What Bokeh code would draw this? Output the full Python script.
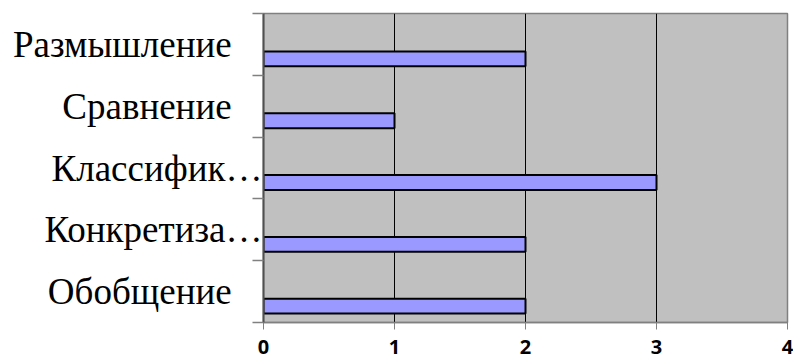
from bokeh.plotting import figure
from bokeh.models import FixedTicker, Range1d
from bokeh.embed import file_html
from bokeh.resources import INLINE

# Categories listed from top to bottom, with their scores
categories = ["Размышление", "Сравнение", "Классифик…", "Конкретиза…", "Обобщение"]
values = [2, 1, 3, 2, 2]
x_ticks = [0, 1, 2, 3, 4]

n = len(categories)
# Numeric y positions: bottom category sits in the band [0, 1]
centers = [n - 1 - i + 0.5 for i in range(n)]
bar_y = [c - 0.235 for c in centers]

# Full names are padded so that they end left of the truncated ones
pad = "\u2002\u2004"
labels = {}
for c, name in zip(centers, categories):
    labels[c] = name if name.endswith("…") else name + pad

p = figure(width=793, height=361, output_backend="svg", toolbar_location=None,
           x_range=Range1d(0, 4), y_range=Range1d(0, n))
p.min_border_left = 263
p.min_border_right = 6
p.min_border_top = 13
p.min_border_bottom = 39
p.background_fill_color = "#C0C0C0"
p.border_fill_color = "white"
p.outline_line_color = "#808080"
p.outline_line_width = 1.5

p.hbar(y=bar_y, left=0, right=values, height=0.24,
       fill_color="#9999FF", line_color="black", line_width=2)

# X axis: bold numeric labels, gridlines in black
p.xaxis.ticker = FixedTicker(ticks=x_ticks, minor_ticks=[])
p.xaxis.major_label_text_font = "Open Sans"
p.xaxis.major_label_text_font_style = "bold"
p.xaxis.major_label_text_font_size = "20px"
p.xaxis.major_label_text_color = "black"
p.xaxis.major_tick_out = 7
p.xaxis.major_tick_in = 0
p.xaxis.major_tick_line_color = "#808080"
p.xaxis.axis_line_color = "#808080"
p.xaxis.axis_line_width = 1.5
p.xaxis.major_label_standoff = 10
p.xgrid.ticker = FixedTicker(ticks=x_ticks[1:-1])
p.xgrid.grid_line_color = "black"
p.xgrid.grid_line_width = 1
p.ygrid.grid_line_color = None

# Y axis: category names at band centres, ticks at band boundaries
p.yaxis.ticker = FixedTicker(ticks=centers, minor_ticks=list(range(n + 1)))
p.yaxis.major_label_overrides = labels
p.yaxis.major_label_text_font = "Liberation Serif"
p.yaxis.major_label_text_font_size = "37px"
p.yaxis.major_label_text_color = "black"
p.yaxis.major_tick_out = 0
p.yaxis.major_tick_in = 0
p.yaxis.minor_tick_out = 11
p.yaxis.minor_tick_in = 0
p.yaxis.minor_tick_line_color = "#808080"
p.yaxis.minor_tick_line_width = 1.5
p.yaxis.major_label_standoff = -10
p.yaxis.axis_line_color = "#505050"
p.yaxis.axis_line_width = 2

open("out.html", "w").write(file_html(p, INLINE))
